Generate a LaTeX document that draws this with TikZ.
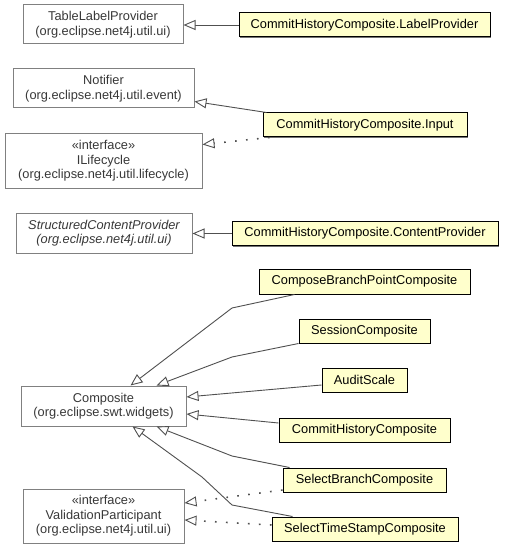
\documentclass[tikz,border=0pt]{standalone}
\usepackage{fontspec}
\setmainfont{Liberation Sans}
\usetikzlibrary{arrows.meta,calc,shadows}
\definecolor{ybox}{HTML}{FFFFCC}
\definecolor{gline}{HTML}{505050}
\definecolor{gtext}{HTML}{383838}
\definecolor{gborder}{HTML}{808080}
\begin{document}
\begin{tikzpicture}[x=1pt,y=-1pt,
  every node/.style={font=\fontsize{12.8}{14.5}\selectfont, inner sep=0pt, align=center},
  wbox/.style={draw=gborder, line width=1pt, fill=white, text=gtext},
  ybox/.style={draw=black, line width=1pt, fill=ybox, text=black,
     drop shadow={shadow xshift=1.2pt, shadow yshift=-1.2pt, fill=black!55, opacity=1}},
  gen/.style={draw=gline, line width=0.9pt, -{Triangle[open, length=12pt, width=10pt, fill=white, line width=0.9pt]}},
  real/.style={gen, line width=1.6pt, dash pattern=on 1.6pt off 9.4pt}
]
\useasboundingbox[fill=white] (0,0) rectangle (504,548);

% left (white) boxes
\node[wbox, minimum width=160pt, minimum height=39pt] (tlp) at (103,24.5)
  {TableLabelProvider\\(org.eclipse.net4j.util.ui)};
\node[wbox, minimum width=181pt, minimum height=39pt] (notifier) at (103.5,88.5)
  {Notifier\\(org.eclipse.net4j.util.event)};
\node[wbox, minimum width=197pt, minimum height=54pt] (ilife) at (103.5,161)
  {«interface»\\ILifecycle\\(org.eclipse.net4j.util.lifecycle)};
\node[wbox, minimum width=176pt, minimum height=40pt, font=\fontsize{12.8}{14.5}\selectfont\itshape] (scp) at (104,233)
  {StructuredContentProvider\\(org.eclipse.net4j.util.ui)};
\node[wbox, minimum width=165pt, minimum height=40pt] (comp) at (103.5,406)
  {Composite\\(org.eclipse.swt.widgets)};
\node[wbox, minimum width=161pt, minimum height=54pt] (vp) at (103.5,516)
  {«interface»\\ValidationParticipant\\(org.eclipse.net4j.util.ui)};

% right (yellow) boxes
\node[ybox, minimum width=251pt, minimum height=24pt] (lp) at (364.5,25)
  {CommitHistoryComposite.LabelProvider};
\node[ybox, minimum width=204pt, minimum height=24pt] (input) at (365,125)
  {CommitHistoryComposite.Input};
\node[ybox, minimum width=266pt, minimum height=24pt] (cp) at (365,233.5)
  {CommitHistoryComposite.ContentProvider};
\node[ybox, minimum width=211pt, minimum height=25pt] (cbpc) at (364.5,281.5)
  {ComposeBranchPointComposite};
\node[ybox, minimum width=131pt, minimum height=24pt] (sess) at (364.5,331)
  {SessionComposite};
\node[ybox, minimum width=85pt, minimum height=24pt] (audit) at (364.5,380)
  {AuditScale};
\node[ybox, minimum width=171pt, minimum height=24pt] (chc) at (364.5,430)
  {CommitHistoryComposite};
\node[ybox, minimum width=163pt, minimum height=24pt] (sbc) at (364.5,480)
  {SelectBranchComposite};
\node[ybox, minimum width=186pt, minimum height=24pt] (stsc) at (365,529)
  {SelectTimeStampComposite};

% generalizations
\draw[gen] (lp.west) -- (lp.west -| tlp.east);
\draw[gen] ($(input.north west)+(4,0)$) -- ($(notifier.south east)+(0,-7)$);
\draw[gen] (cp.west) -- (cp.west -| scp.east);
\draw[gen] ($(cbpc.south west)+(36,0)$) -- (232,308) -- ($(comp.north west)+(110,0)$);
\draw[gen] (sess.south west) -- (232,357) -- ($(comp.north west)+(136,0)$);
\draw[gen] ($(audit.west)+(0,5)$) -- ($(comp.east)+(0,-9)$);
\draw[gen] ($(chc.west)+(0,-7)$) -- ($(comp.east)+(0,8)$);
\draw[gen] ($(sbc.north west)+(7,0)$) -- (232,456) -- ($(comp.south west)+(136,0)$);
\draw[gen] ($(stsc.north west)+(21,0)$) -- (232,505) -- (202,477) -- ($(comp.south west)+(112,0)$);

% realizations
\draw[real] ($(input.south west)+(7,0)$) -- ($(ilife.north east)+(0,11)$);
\draw[real] ($(sbc.west)+(0,10)$) -- ($(vp.east)+(0,-13)$);
\draw[real] ($(stsc.west)+(0,-4)$) -- ($(vp.east)+(0,4)$);
\end{tikzpicture}
\end{document}
